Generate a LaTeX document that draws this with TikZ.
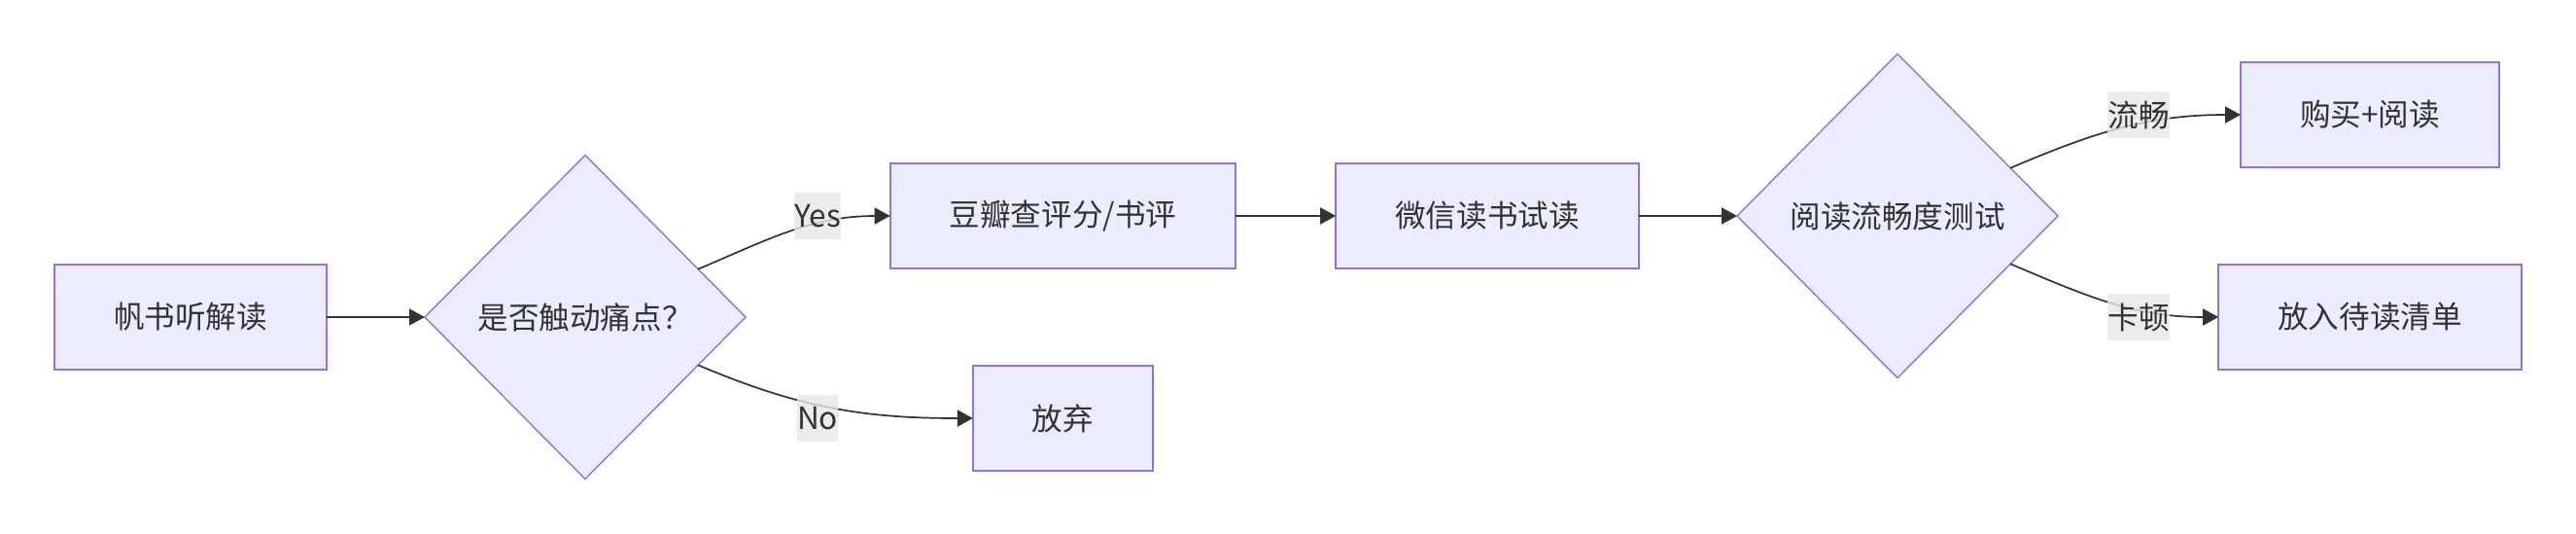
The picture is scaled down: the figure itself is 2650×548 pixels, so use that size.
\documentclass[tikz,border=0pt]{standalone}
\usepackage{fontspec}
\setmainfont{Noto Sans CJK SC}
\usepackage{tikz}
\usetikzlibrary{arrows.meta, shapes.geometric}
\definecolor{boxfill}{HTML}{ECECFF}
\definecolor{boxline}{HTML}{9370DB}
\definecolor{edgecol}{HTML}{333333}
\definecolor{lblfill}{HTML}{E8E8E8}
\definecolor{textcol}{HTML}{333333}

\begin{document}
\begin{tikzpicture}[x=0.5pt, y=0.5pt,
  txt/.style={text=textcol, font=\fontsize{15.8}{19}\selectfont},
  box/.style={txt, draw=boxline, fill=boxfill, line width=1pt, minimum height=54pt, inner xsep=30.5pt, inner ysep=0pt, outer sep=0pt},
  dec/.style={txt, diamond, draw=boxline, fill=boxfill, line width=0.7pt, minimum width=165pt, minimum height=166.5pt, inner sep=0pt, outer sep=0pt},
  lbl/.style={txt, fill=lblfill, fill opacity=0.8, text opacity=1, inner xsep=0pt, inner ysep=0pt, minimum height=23.8pt},
  edge/.style={draw=edgecol, line width=0.85pt, -{Triangle[length=8pt, width=8.5pt]}}]

\fill[white] (0,0) rectangle (2650,-548); % page

\node[box] (fan) at (196,-326) {帆书听解读};
\node[dec] (pain) at (602,-326) {是否触动痛点？};
\node[box] (douban) at (1093.5,-222) {豆瓣查评分/书评};
\node[box] (drop) at (1093.5,-430) {放弃};
\node[box] (wx) at (1530,-222) {微信读书试读};
\node[dec] (flow) at (1952,-222) {阅读流畅度测试};
\node[box] (buy) at (2438,-118) {购买+阅读};
\node[box] (later) at (2438,-326) {放入待读清单};

\draw[edge] (fan.east) -- (pain.west);
\draw[edge] (pain.23) to[out=23, in=180] (douban.west);
\draw[edge] (pain.-23) to[out=-23, in=180] (drop.west);
\draw[edge] (douban.east) -- (wx.west);
\draw[edge] (wx.east) -- (flow.west);
\draw[edge] (flow.23) to[out=23, in=180] (buy.west);
\draw[edge] (flow.-23) to[out=-23, in=180] (later.west);

\node[lbl] (yes) at (841,-222) {Yes};
\node[lbl] (no) at (841,-430) {No};
\node[lbl] (smooth) at (2200,-118) {流畅};
\node[lbl] (stuck) at (2200,-326) {卡顿};
\end{tikzpicture}
\end{document}
